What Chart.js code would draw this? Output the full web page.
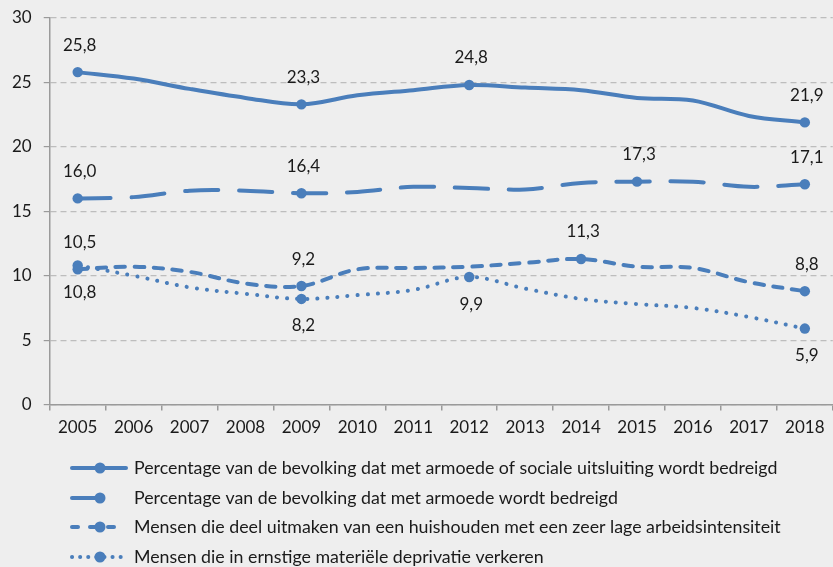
<!DOCTYPE html>
<html>
<head>
<meta charset="utf-8">
<script src="https://cdn.jsdelivr.net/npm/chart.js@4.4.1/dist/chart.umd.min.js"></script>
<style>
  html, body { margin: 0; padding: 0; background: #eeeeee; overflow: hidden; }
  #wrap { width: 838px; height: 567px; }
</style>
</head>
<body>
<div id="wrap"><canvas id="grafiek"></canvas></div>
<script>
// Gegevens
const jaren = ['2005', '2006', '2007', '2008', '2009', '2010', '2011', '2012', '2013', '2014', '2015', '2016', '2017', '2018'];

const armoedeOfUitsluiting = [25.8, 25.3, 24.5, 23.8, 23.3, 24.0, 24.4, 24.8, 24.6, 24.4, 23.8, 23.6, 22.4, 21.9];
const armoede = [16.0, 16.1, 16.6, 16.6, 16.4, 16.5, 16.9, 16.8, 16.7, 17.2, 17.3, 17.3, 16.9, 17.1];
const lageArbeidsintensiteit = [10.5, 10.7, 10.3, 9.4, 9.2, 10.5, 10.6, 10.7, 11.0, 11.3, 10.7, 10.6, 9.5, 8.8];
const materieleDeprivatie = [10.8, 10.0, 9.1, 8.6, 8.2, 8.5, 8.9, 9.9, 9.0, 8.2, 7.8, 7.5, 6.8, 5.9];

// jaren met marker + waarde
const gemarkeerd1 = ['2005', '2009', '2012', '2018'];
const gemarkeerd2 = ['2005', '2009', '2015', '2018'];
const gemarkeerd3 = ['2005', '2009', '2014', '2018'];
const gemarkeerd4 = ['2005', '2009', '2012', '2018'];

const yTicks = [0, 5, 10, 15, 20, 25, 30];

const blauw = '#4a7ebb';
const tekstKleur = '#1a1a1a';
const lettertype = 'Lato, "Liberation Sans", sans-serif';

function reeks(label, data, gemarkeerd, streep, boven, legendeKort) {
  return {
    label: label,
    data: data,
    gemarkeerd: gemarkeerd,
    labelBoven: boven,
    legendeKort: legendeKort,
    borderColor: blauw,
    backgroundColor: blauw,
    borderWidth: 4,
    borderDash: streep,
    borderCapStyle: 'round',
    tension: 0.35,
    pointRadius: ctx => gemarkeerd.includes(jaren[ctx.dataIndex]) ? 5.2 : 0,
    pointHoverRadius: 0,
    pointBorderWidth: 0,
    fill: false
  };
}

// waarden naast de markers
const waardeLabels = {
  id: 'waardeLabels',
  afterDatasetsDraw(chart) {
    const ctx = chart.ctx;
    ctx.save();
    ctx.font = '17px ' + lettertype;
    ctx.fillStyle = tekstKleur;
    ctx.textAlign = 'center';
    ctx.textBaseline = 'middle';
    chart.data.datasets.forEach((ds, i) => {
      const meta = chart.getDatasetMeta(i);
      ds.gemarkeerd.forEach(jaar => {
        const idx = jaren.indexOf(jaar);
        const pt = meta.data[idx];
        const tekst = ds.data[idx].toFixed(1).replace('.', ',');
        ctx.fillText(tekst, pt.x + 2, pt.y + (ds.labelBoven ? -27 : 27));
      });
    });
    ctx.restore();
  }
};

// legenda onderaan, met lijnvoorbeeld en marker
const legendaOnder = {
  id: 'legendaOnder',
  afterDraw(chart) {
    const ctx = chart.ctx;
    const rijen = [468, 498, 527, 557];
    ctx.save();
    chart.data.datasets.forEach((ds, i) => {
      const y = rijen[i];
      const x0 = 72, xm = 100, x1 = ds.legendeKort ? 100 : 126;
      ctx.strokeStyle = blauw;
      ctx.lineWidth = 4;
      ctx.lineCap = 'round';
      ctx.setLineDash(ds.legendeDash || []);
      ctx.beginPath();
      ctx.moveTo(x0, y);
      ctx.lineTo(x1, y);
      ctx.stroke();
      ctx.setLineDash([]);
      ctx.fillStyle = blauw;
      ctx.beginPath();
      ctx.arc(xm, y, 5.5, 0, Math.PI * 2);
      ctx.fill();
      ctx.font = '17.8px ' + lettertype;
      ctx.fillStyle = tekstKleur;
      ctx.textAlign = 'left';
      ctx.textBaseline = 'middle';
      ctx.fillText(ds.label, 134, y);
    });
    ctx.restore();
  }
};

const datasets = [
  reeks('Percentage van de bevolking dat met armoede of sociale uitsluiting wordt bedreigd', armoedeOfUitsluiting, gemarkeerd1, [], true, false),
  reeks('Percentage van de bevolking dat met armoede wordt bedreigd', armoede, gemarkeerd2, [33, 21], true, true),
  reeks('Mensen die deel uitmaken van een huishouden met een zeer lage arbeidsintensiteit', lageArbeidsintensiteit, gemarkeerd3, [9.5, 9.5], true, false),
  reeks('Mensen die in ernstige materiële deprivatie verkeren', materieleDeprivatie, gemarkeerd4, [0.1, 10], false, false)
];
datasets[2].legendeDash = [6, 12];
datasets[3].legendeDash = [0.1, 8];

new Chart(document.getElementById('grafiek'), {
  type: 'line',
  data: { labels: jaren, datasets: datasets },
  options: {
    responsive: true,
    maintainAspectRatio: false,
    animation: false,
    layout: { padding: { left: 0, top: 18, right: 0, bottom: 122 } },
    plugins: {
      legend: { display: false },
      tooltip: { enabled: false }
    },
    scales: {
      x: {
        offset: true,
        grid: { drawOnChartArea: false, offset: true, tickLength: 6, color: '#9a9a9a', lineWidth: 1.5 },
        border: { display: true, color: '#9a9a9a', width: 1.5 },
        ticks: { color: tekstKleur, font: { family: lettertype, size: 17 }, padding: 7, maxRotation: 0, autoSkip: false }
      },
      y: {
        min: 0,
        max: 30,
        afterBuildTicks: axis => { axis.ticks = yTicks.map(v => ({ value: v })); },
        afterFit: axis => { axis.paddingTop = 0; },
        grid: { color: '#bdbdbd', lineWidth: 1.2, tickLength: 6, tickColor: '#9a9a9a', tickBorderDash: [] },
        border: { display: true, color: '#9a9a9a', width: 1.5, dash: [6, 4] },
        ticks: { color: tekstKleur, font: { family: lettertype, size: 17 }, padding: 12 }
      }
    }
  },
  plugins: [waardeLabels, legendaOnder]
});
</script>
</body>
</html>
